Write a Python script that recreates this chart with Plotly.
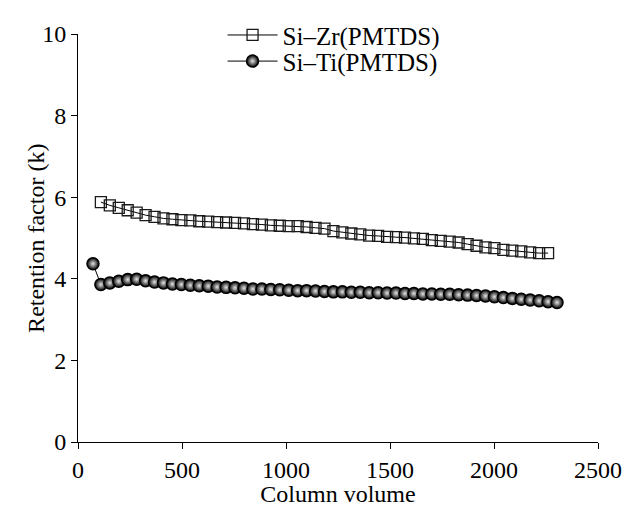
import plotly.graph_objects as go

# Si-Zr(PMTDS): column volume vs retention factor
zr_x = [110, 153, 196, 239, 282, 325, 368, 411, 454, 497, 540, 583, 626, 669, 712,
        755, 798, 841, 884, 927, 970, 1013, 1056, 1099, 1142, 1185, 1228, 1271, 1314,
        1357, 1400, 1443, 1486, 1529, 1572, 1615, 1658, 1701, 1744, 1787, 1830, 1873,
        1916, 1959, 2002, 2045, 2088, 2131, 2174, 2217, 2260]
zr_k = [5.88, 5.80, 5.74, 5.68, 5.62, 5.56, 5.52, 5.48, 5.46, 5.44, 5.43, 5.41, 5.40,
        5.39, 5.38, 5.37, 5.36, 5.34, 5.33, 5.31, 5.30, 5.29, 5.29, 5.27, 5.25, 5.23,
        5.17, 5.14, 5.11, 5.09, 5.06, 5.05, 5.03, 5.02, 5.01, 4.99, 4.98, 4.95, 4.93,
        4.91, 4.89, 4.85, 4.81, 4.77, 4.75, 4.71, 4.69, 4.67, 4.65, 4.63, 4.63]

# Si-Ti(PMTDS)
ti_x = [72, 110, 153, 196, 239, 282, 325, 368, 411, 454, 497, 540, 583, 626, 669, 712,
        755, 798, 841, 884, 927, 970, 1013, 1056, 1099, 1142, 1185, 1228, 1271, 1314,
        1357, 1400, 1443, 1486, 1529, 1572, 1615, 1658, 1701, 1744, 1787, 1830, 1873,
        1916, 1959, 2002, 2045, 2088, 2131, 2174, 2217, 2260, 2303]
ti_k = [4.37, 3.86, 3.90, 3.94, 3.98, 3.99, 3.95, 3.92, 3.90, 3.87, 3.86, 3.84, 3.83,
        3.82, 3.80, 3.79, 3.78, 3.77, 3.75, 3.75, 3.74, 3.73, 3.72, 3.71, 3.71, 3.70,
        3.69, 3.68, 3.68, 3.67, 3.67, 3.66, 3.66, 3.65, 3.65, 3.64, 3.64, 3.63, 3.63,
        3.62, 3.62, 3.61, 3.60, 3.59, 3.58, 3.56, 3.54, 3.52, 3.50, 3.48, 3.46, 3.44, 3.42]

x_ticks = [0, 500, 1000, 1500, 2000, 2500]
y_ticks = [0, 2, 4, 6, 8, 10]

FONT = "Liberation Serif"
FS = 24

fig = go.Figure()
fig.add_trace(go.Scatter(
    x=zr_x, y=zr_k, mode="lines+markers", name="Si\u2013Zr(PMTDS)",
    legend="legend",
    line=dict(color="black", width=1),
    marker=dict(symbol="square-open", size=11, color="#1a1a1a", line=dict(width=1.3)),
))
fig.add_trace(go.Scatter(
    x=ti_x, y=ti_k, mode="lines+markers", name="Si\u2013Ti(PMTDS)",
    legend="legend2",
    line=dict(color="black", width=1),
    marker=dict(symbol="circle", size=12, color="#000000",
                gradient=dict(type="radial", color="#e6e6e6"),
                line=dict(width=1.5, color="#000000")),
))

axis_common = dict(
    showline=True, linecolor="black", linewidth=1,
    ticks="outside", ticklen=6, tickcolor="black", tickwidth=1,
    showgrid=False, zeroline=False, automargin=False,
    tickfont=dict(family=FONT, size=FS, color="black"),
)

leg_common = dict(x=0.278, xanchor="left", yanchor="middle",
                  bgcolor="rgba(0,0,0,0)", font=dict(family=FONT, size=25),
                  itemwidth=50)

fig.update_layout(
    width=622, height=507,
    margin=dict(l=78, r=24, t=22, b=65),
    paper_bgcolor="white", plot_bgcolor="white",
    font=dict(family=FONT, size=FS, color="black"),
    showlegend=True,
    legend=dict(y=0.997, **leg_common),
    legend2=dict(y=0.933, **leg_common),
    xaxis=dict(range=[0, 2500], tickvals=x_ticks,
               title=dict(text="Column volume", font=dict(family=FONT, size=FS), standoff=0),
               **axis_common),
    yaxis=dict(range=[0, 10], tickvals=y_ticks, **axis_common),
    annotations=[dict(text="Retention factor (k)", xref="paper", yref="paper",
                      x=-0.081, y=0.5, xanchor="center", yanchor="middle",
                      textangle=-90, showarrow=False,
                      font=dict(family=FONT, size=FS, color="black"))],
)

fig.write_html("out.html", config={"displayModeBar": False},
               post_script="document.body.style.margin='0';")
